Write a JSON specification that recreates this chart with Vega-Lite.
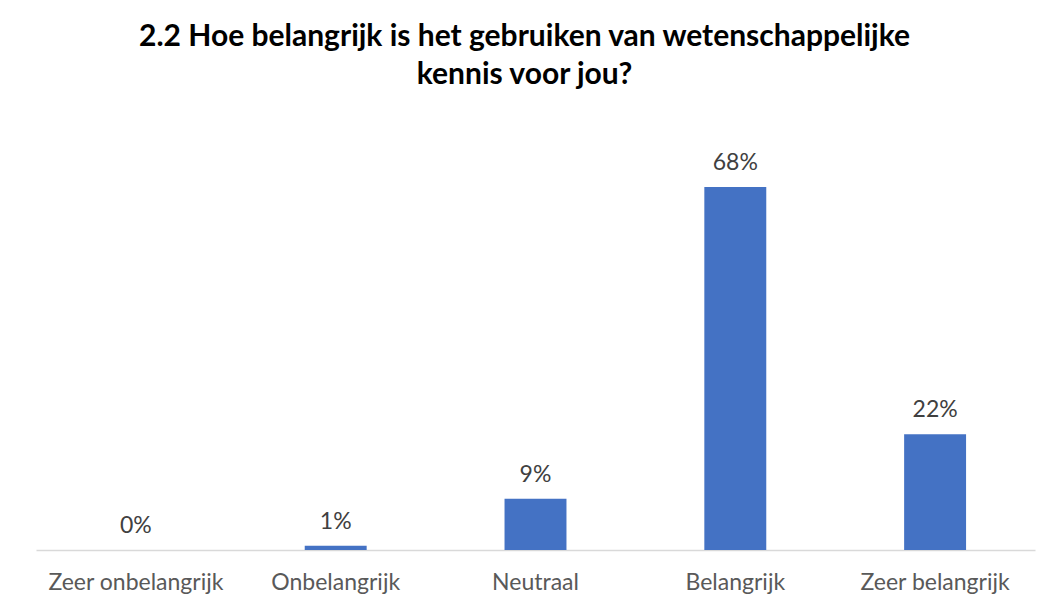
{
  "$schema": "https://vega.github.io/schema/vega-lite/v6.json",
  "autosize": "none",
  "width": 999,
  "height": 427,
  "padding": {"left": 36, "top": 123, "right": 17, "bottom": 60},
  "background": "white",
  "title": {
    "text": ["2.2 Hoe belangrijk is het gebruiken van wetenschappelijke", "kennis voor jou?"],
    "font": "Lato",
    "fontSize": 30,
    "fontWeight": "bold",
    "color": "#000000",
    "anchor": "middle",
    "frame": "group",
    "dx": -11,
    "lineHeight": 38,
    "offset": 33
  },
  "data": {
    "values": [
      {"categorie": "Zeer onbelangrijk", "waarde": 0, "label": "0%"},
      {"categorie": "Onbelangrijk", "waarde": 0.8, "label": "1%"},
      {"categorie": "Neutraal", "waarde": 9.6, "label": "9%"},
      {"categorie": "Belangrijk", "waarde": 68, "label": "68%"},
      {"categorie": "Zeer belangrijk", "waarde": 21.7, "label": "22%"}
    ]
  },
  "config": {"view": {"stroke": null}},
  "encoding": {
    "x": {
      "field": "categorie",
      "type": "nominal",
      "sort": null,
      "scale": {"paddingInner": 0.69, "paddingOuter": 0.345},
      "axis": {
        "title": null,
        "labelAngle": 0,
        "labelFont": "Lato",
        "labelFontSize": 23,
        "labelColor": "#595959",
        "labelPadding": 21,
        "ticks": false,
        "domainColor": "#D9D9D9",
        "domainWidth": 1.5
      }
    },
    "y": {
      "field": "waarde",
      "type": "quantitative",
      "scale": {"domain": [0, 80]},
      "axis": null
    }
  },
  "layer": [
    {"mark": {"type": "bar", "color": "#4472C4"}},
    {
      "mark": {"type": "text", "baseline": "bottom", "dy": -12, "font": "Lato", "fontSize": 23, "color": "#404040"},
      "encoding": {"text": {"field": "label"}}
    }
  ]
}
